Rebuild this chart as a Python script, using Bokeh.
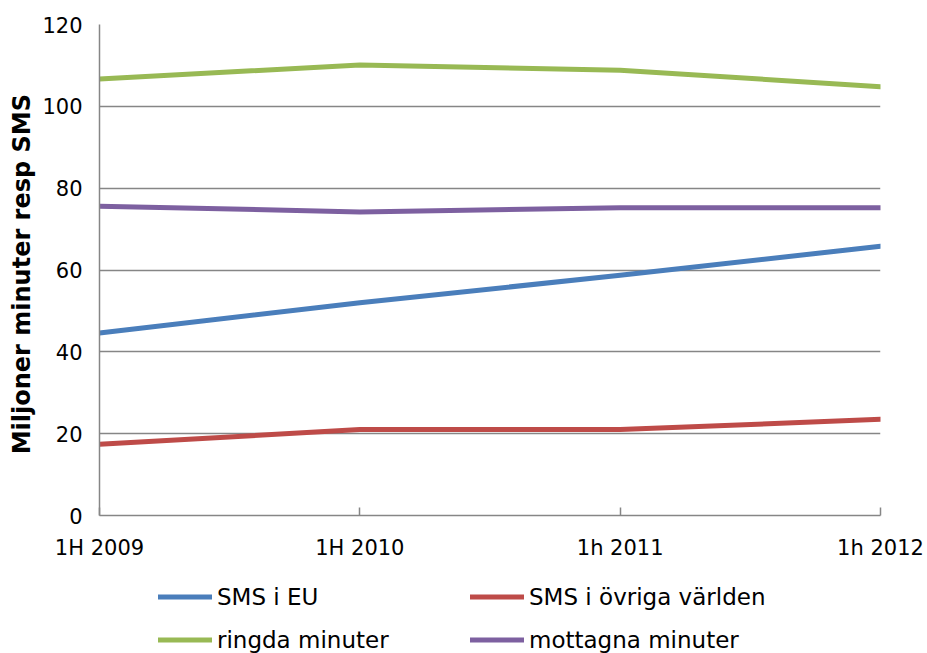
from bokeh.plotting import figure
from bokeh.layouts import column
from bokeh.models import Range1d, FixedTicker, Legend, LegendItem
from bokeh.embed import file_html
from bokeh.resources import INLINE

periods = ["1H 2009", "1H 2010", "1h 2011", "1h 2012"]
sms_eu = [44.6, 52.0, 58.7, 65.8]
sms_world = [17.4, 21.0, 21.0, 23.5]
ringda = [106.7, 110.1, 108.8, 104.8]
mottagna = [75.6, 74.2, 75.2, 75.2]
y_ticks = [0, 20, 40, 60, 80, 100, 120]

series_names = ["SMS i EU", "SMS i övriga världen", "ringda minuter", "mottagna minuter"]
series_values = [sms_eu, sms_world, ringda, mottagna]
series_colors = ["#4A7EBB", "#BE4B48", "#98B954", "#7D60A0"]

FONT = "DejaVu Sans"
xs = list(range(len(periods)))
W = 927
H_MAIN = 570
H_LEG = 83
BORDER_L = 99
BORDER_R = 47

p = figure(width=W, height=H_MAIN, output_backend="svg", toolbar_location=None,
           x_range=Range1d(0, len(periods) - 1), y_range=Range1d(0, 120),
           min_border_left=BORDER_L, min_border_right=BORDER_R,
           min_border_top=24, min_border_bottom=55)
p.outline_line_color = None
p.background_fill_color = "white"
p.border_fill_color = "white"

for vals, col in zip(series_values, series_colors):
    p.line(xs, vals, line_color=col, line_width=5, line_cap="round", line_join="round")

# axes
p.xaxis.ticker = FixedTicker(ticks=xs)
p.xaxis.major_label_overrides = {i: lab for i, lab in enumerate(periods)}
p.yaxis.ticker = FixedTicker(ticks=y_ticks)
for ax in (p.xaxis[0], p.yaxis[0]):
    ax.axis_line_color = "#868686"
    ax.axis_line_width = 1.5
    ax.major_tick_line_color = "#868686"
    ax.major_tick_line_width = 1.5
    ax.minor_tick_line_color = None
    ax.major_label_text_font = FONT
    ax.major_label_text_font_size = "21px"
    ax.major_label_text_color = "black"
p.xaxis.major_tick_in = 8
p.xaxis.major_tick_out = 0
p.xaxis.major_label_standoff = 20
p.yaxis.major_tick_in = 0
p.yaxis.major_tick_out = 0
p.yaxis.major_label_standoff = 17
p.yaxis.axis_label = "Miljoner  minuter resp SMS"
p.yaxis.axis_label_text_font = FONT
p.yaxis.axis_label_text_font_style = "bold"
p.yaxis.axis_label_text_font_size = "24px"
p.yaxis.axis_label_text_color = "black"
p.yaxis.axis_label_standoff = 3

p.xgrid.grid_line_color = None
p.ygrid.grid_line_color = "#868686"
p.ygrid.grid_line_width = 1.5

# legend strip below the chart; its key lines lie outside its own (empty) view
lf = figure(width=W, height=H_LEG, output_backend="svg", toolbar_location=None,
            x_range=Range1d(0, 1), y_range=Range1d(0, 1),
            x_axis_location=None, y_axis_location=None,
            min_border_left=BORDER_L, min_border_right=BORDER_R,
            min_border_top=0, min_border_bottom=0)
lf.outline_line_color = None
lf.xgrid.grid_line_color = None
lf.ygrid.grid_line_color = None
items = []
for name, vals, col in zip(series_names, series_values, series_colors):
    r = lf.line(xs, vals, line_color=col, line_width=5, line_cap="round")
    items.append(LegendItem(label=name, renderers=[r]))

legend = Legend(items=items, ncols=2, orientation="horizontal",
                location=(59, 0), padding=0, margin=0, spacing=16,
                glyph_width=54, glyph_height=27, label_height=27, label_width=237,
                label_standoff=5, label_text_color="black",
                label_text_font=FONT, label_text_font_size="23px",
                border_line_color=None, background_fill_alpha=0)
lf.add_layout(legend, "center")

layout = column(p, lf, spacing=0)
open("out.html", "w").write(file_html(layout, INLINE))
